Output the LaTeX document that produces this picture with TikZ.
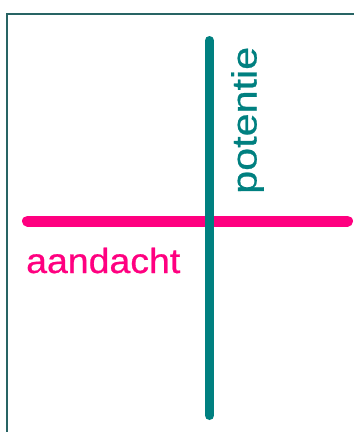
\documentclass[tikz,border=0pt]{standalone}
\usepackage{fontspec}
\setmainfont{Liberation Sans}[FakeBold=0.6]
\definecolor{tealline}{RGB}{0,128,128}
\definecolor{pinkline}{RGB}{255,0,128}
\definecolor{framecol}{RGB}{40,100,100}
\tikzset{
  frameline/.style={draw=framecol, line width=1.3bp},
  axisv/.style={draw=tealline, line width=9bp, line cap=round},
  axish/.style={draw=pinkline, line width=11bp, line cap=round},
  axislabel/.style={inner sep=0pt, font=\fontsize{35bp}{40bp}\selectfont}
}
\begin{document}
\begin{tikzpicture}[x=1bp, y=-1bp]
\useasboundingbox (0,0) rectangle (354,432);
\fill[white] (0,0) rectangle (354,432);
\coordinate (fbl) at (7,432);
\coordinate (ftl) at (7,14);
\coordinate (ftr) at (354,14);
\draw[frameline] (fbl) -- (ftl) -- (ftr);
\coordinate (hl) at (27.5,221);
\coordinate (hr) at (347.5,221);
\coordinate (vt) at (209.5,40.5);
\coordinate (vb) at (209.5,415.5);
\draw[axish] (hl) -- (hr);
\draw[axisv] (vt) -- (vb);
\node[axislabel, text=pinkline, anchor=base west, xscale=1.07] (aand) at (26,273) {aandacht};
\node[axislabel, text=tealline, anchor=base west, rotate=90, xscale=1.18] (pot) at (256.5,194) {potentie};
\end{tikzpicture}
\end{document}
